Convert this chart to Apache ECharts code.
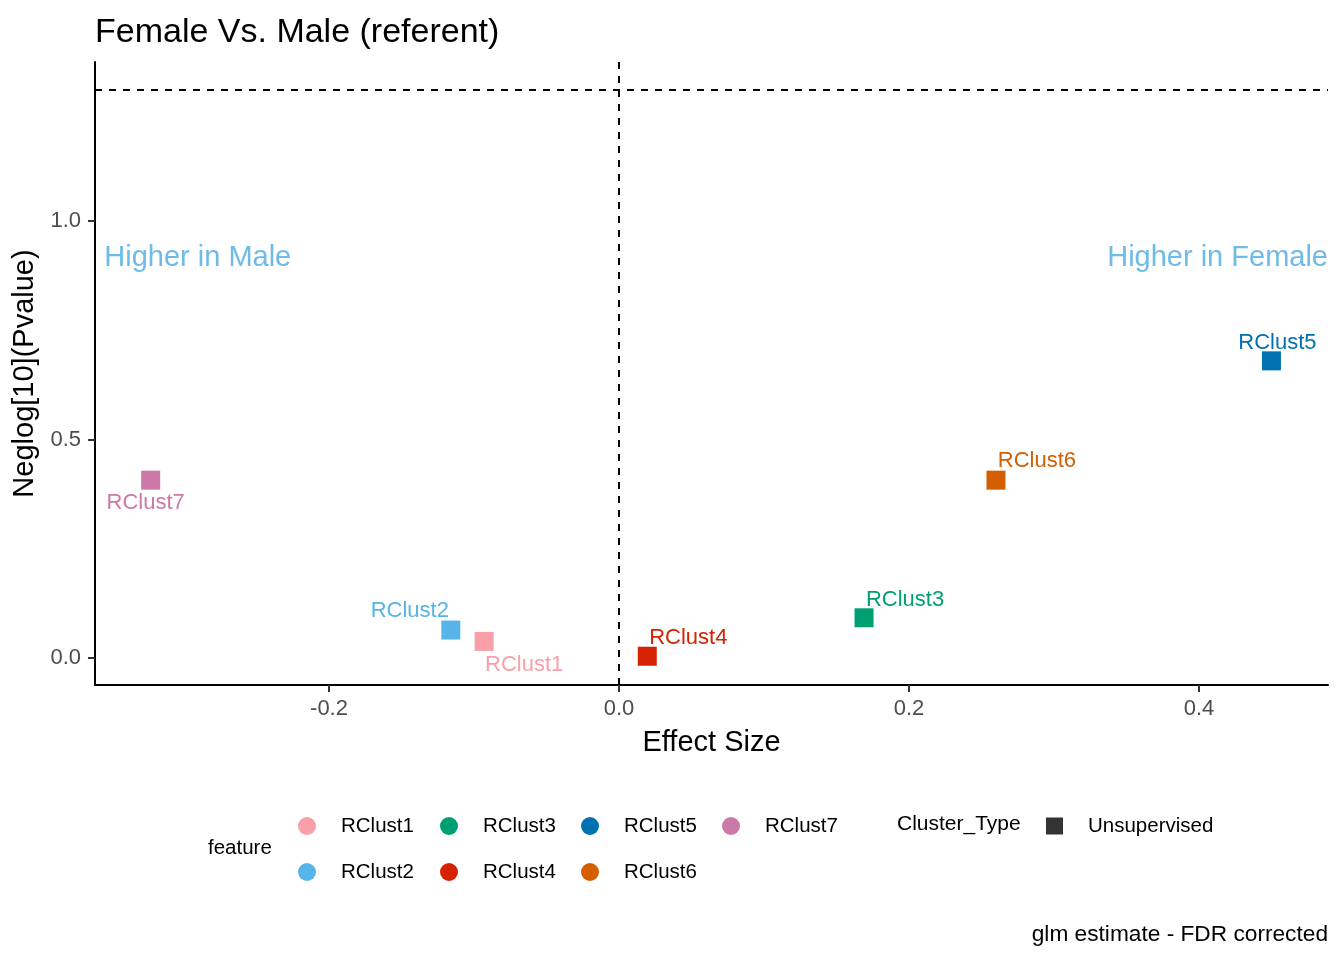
<!DOCTYPE html>
<html>
<head>
<meta charset="utf-8">
<script src="https://cdn.jsdelivr.net/npm/echarts@6/dist/echarts.min.js"></script>
<style>
  html, body { margin: 0; padding: 0; background: #fff; }
  #chart { width: 1344px; height: 960px; }
</style>
</head>
<body>
<div id="chart"></div>
<script>
// 数据：每个簇的效应量和 -log10(P)
const clusters = ['RClust1', 'RClust2', 'RClust3', 'RClust4', 'RClust5', 'RClust6', 'RClust7'];
const effectSize = [-0.093, -0.116, 0.169, 0.0195, 0.450, 0.260, -0.323];
const neglogP = [0.038, 0.064, 0.092, 0.004, 0.680, 0.407, 0.407];
const clusterType = ['Unsupervised'];
const xTicks = [-0.2, 0.0, 0.2, 0.4];
const yTicks = [0.0, 0.5, 1.0];
const pThreshold = 1.301; // -log10(0.05)
const annoText = ['Higher in Male', 'Higher in Female'];
const annoX = [-0.355, 0.489];
const annoY = [0.916, 0.916];

const colors = ['#FA9FA8', '#56B4E9', '#009E73', '#D52200', '#0072B2', '#D55E00', '#CC79A7'];
// 标签相对点中心的偏移（ggrepel 的效果）
const labelOffsets = [[40, 24], [-41, -19], [41, -18], [41, -18], [6, -18], [41, -19], [-5, 23]];

const baseFont = 'Liberation Sans, Arial, sans-serif';

function initChart() {
    const chart = echarts.init(document.getElementById('chart'));

    const pointSeries = clusters.map((name, i) => ({
        name: name,
        type: 'scatter',
        symbol: 'rect',
        symbolSize: 19,
        itemStyle: { color: colors[i], opacity: 1 },
        label: {
            show: true,
            position: 'inside',
            offset: labelOffsets[i],
            formatter: name,
            color: colors[i],
            fontSize: 22,
            fontFamily: baseFont
        },
        emphasis: { disabled: true },
        data: [[effectSize[i], neglogP[i]]],
        z: 3
    }));

    const refSeries = {
        name: 'refs',
        type: 'scatter',
        data: [],
        silent: true,
        markLine: {
            symbol: 'none',
            silent: true,
            label: { show: false },
            lineStyle: { color: '#000', type: [7, 7], width: 2 },
            data: [{ xAxis: 0 }, { yAxis: pThreshold }]
        }
    };

    const annoSeries = {
        name: 'anno',
        type: 'scatter',
        symbolSize: 0,
        silent: true,
        data: annoText.map((t, i) => ({
            value: [annoX[i], annoY[i]],
            label: {
                show: true,
                position: 'inside',
                formatter: t,
                align: i === 0 ? 'left' : 'right',
                verticalAlign: 'middle',
                color: '#4AAAE4',
                fontSize: 29,
                fontFamily: baseFont
            }
        }))
    };

    const typeSeries = {
        name: clusterType[0],
        type: 'scatter',
        symbol: 'rect',
        itemStyle: { color: '#000' },
        data: []
    };

    const legendCols = [['RClust1', 'RClust2'], ['RClust3', 'RClust4'], ['RClust5', 'RClust6'], ['RClust7']];
    const legendLeft = [298, 440, 581, 722];
    const legendText = { color: '#000', fontSize: 20.5, fontFamily: baseFont, lineHeight: 22, padding: [0, 0, 0, 20] };
    const legends = legendCols.map((col, i) => ({
        orient: 'vertical',
        left: legendLeft[i],
        top: 815,
        padding: 0,
        itemGap: 24,
        itemWidth: 18,
        itemHeight: 18,
        icon: 'circle',
        selectedMode: false,
        textStyle: legendText,
        data: col
    }));
    legends.push({
        orient: 'vertical',
        left: 1046,
        top: 815,
        padding: 0,
        itemWidth: 17,
        itemHeight: 17,
        icon: 'rect',
        selectedMode: false,
        itemStyle: { color: '#000', borderWidth: 0 },
        textStyle: legendText,
        data: clusterType.map(n => ({ name: n, itemStyle: { color: '#000' } }))
    });

    chart.setOption({
        backgroundColor: '#fff',
        animation: false,
        title: {
            text: 'Female Vs. Male (referent)',
            left: 90,
            top: 11,
            textStyle: { color: '#000', fontSize: 34, fontWeight: 'normal', fontFamily: baseFont }
        },
        grid: { left: 95, right: 16, top: 62, bottom: 275 },
        xAxis: {
            type: 'value',
            min: -0.3614,
            max: 0.489,
            name: 'Effect Size',
            nameLocation: 'middle',
            nameGap: 43,
            nameTextStyle: { color: '#000', fontSize: 29, fontFamily: baseFont },
            axisLine: { show: true, onZero: false, lineStyle: { color: '#000', width: 2 } },
            axisTick: { show: true, length: 7, customValues: xTicks, lineStyle: { color: '#333', width: 2 } },
            axisLabel: {
                customValues: xTicks,
                margin: 13,
                color: '#4D4D4D',
                fontSize: 22,
                fontFamily: baseFont,
                formatter: v => v.toFixed(1)
            },
            splitLine: { show: false }
        },
        yAxis: {
            type: 'value',
            min: -0.0618,
            max: 1.364,
            name: 'Neglog[10](Pvalue)',
            nameLocation: 'middle',
            nameGap: 50,
            nameTextStyle: { color: '#000', fontSize: 29, fontFamily: baseFont },
            axisLine: { show: true, onZero: false, lineStyle: { color: '#000', width: 2 } },
            axisTick: { show: true, length: 7, customValues: yTicks, lineStyle: { color: '#333', width: 2 } },
            axisLabel: {
                customValues: yTicks,
                margin: 14,
                color: '#4D4D4D',
                fontSize: 22,
                fontFamily: baseFont,
                formatter: v => v.toFixed(1)
            },
            splitLine: { show: false }
        },
        legend: legends,
        graphic: [
            {
                type: 'text', left: 208, top: 838,
                style: { text: 'feature', fill: '#000', fontSize: 20.5, fontFamily: baseFont }
            },
            {
                type: 'text', left: 897, top: 814,
                style: { text: 'Cluster_Type', fill: '#000', fontSize: 21, fontFamily: baseFont }
            },
            {
                type: 'text', right: 16, top: 923,
                style: { text: 'glm estimate - FDR corrected', fill: '#000', fontSize: 22.7, fontFamily: baseFont }
            }
        ],
        series: [refSeries, ...pointSeries, annoSeries, typeSeries]
    });
}

initChart();
</script>
</body>
</html>
